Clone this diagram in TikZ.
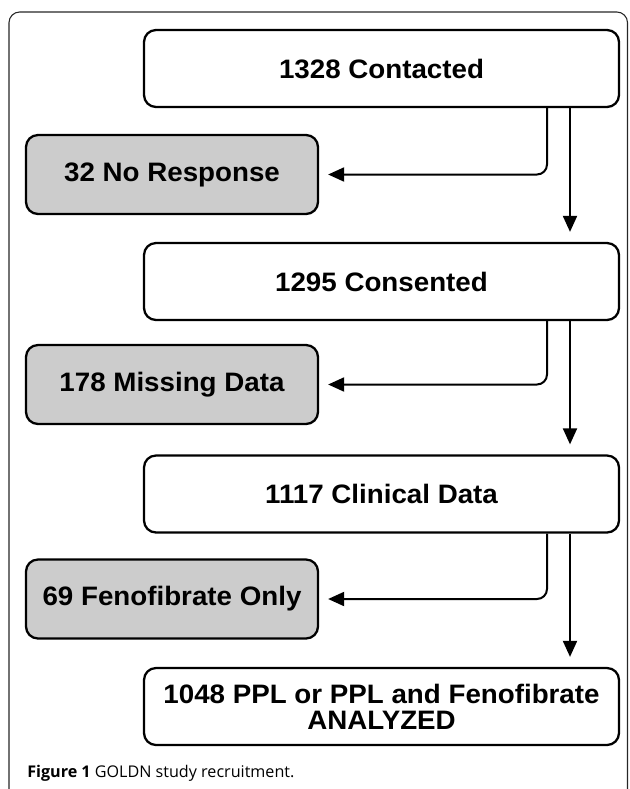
\documentclass[tikz,border=0pt]{standalone}
\usepackage{fontspec}
\usetikzlibrary{arrows.meta,calc}
\newfontfamily\boxfont[FakeStretch=1.04]{Liberation Sans}
\newfontfamily\capfont{Open Sans}
\definecolor{boxgray}{HTML}{CCCCCC}
\tikzset{
  mainbox/.style={draw=black, line width=1.7pt, rounded corners=9pt, fill=white,
    minimum width=356.25pt, minimum height=57.75pt, inner sep=0pt, align=center,
    font=\boxfont\bfseries\fontsize{20pt}{19.5pt}\selectfont},
  sidebox/.style={mainbox, fill=boxgray, minimum width=219pt, minimum height=59.25pt},
  conn/.style={line width=1.5pt, -{Triangle[length=12pt,width=10.5pt]}},
  frame/.style={draw=black!85, line width=0.8pt, rounded corners=8pt}
}
\begin{document}
\begin{tikzpicture}[x=0.75pt,y=-0.75pt]
\useasboundingbox (0,0) rectangle (629,789);
\draw[frame] (9,820) -- (9,12) -- (627.5,12) -- (627.5,820);
\coordinate (sx) at (547,0);
\coordinate (mx) at (570,0);
\node[mainbox] (b1) at (381.5,68.5) {1328 Contacted};
\node[sidebox] (nr) at (172,174.5) {32 No Response};
\node[mainbox] (b2) at (381.5,281.5) {1295 Consented};
\node[sidebox] (md) at (172,384.5) {178 Missing Data};
\node[mainbox] (b3) at (381.5,494) {1117 Clinical Data};
\node[sidebox] (fo) at (172,599) {69 Fenofibrate Only};
\node[mainbox] (b4) at (381.5,706.5) {1048 PPL or PPL and Fenofibrate\\ANALYZED};
\node[anchor=base west, inner sep=0pt, font=\capfont\fontsize{12.1pt}{14pt}\selectfont] (cap) at (27,777)
  {\textbf{Figure 1} GOLDN study recruitment.};
\draw[conn, rounded corners=7.5pt, shorten >=6.75pt] (b1.south -| sx) |- (nr.east);
\draw[conn, shorten >=7.5pt] (b1.south -| mx) -- (b2.north -| mx);
\draw[conn, rounded corners=7.5pt, shorten >=6.75pt] (b2.south -| sx) |- (md.east);
\draw[conn, shorten >=7.5pt] (b2.south -| mx) -- (b3.north -| mx);
\draw[conn, rounded corners=7.5pt, shorten >=6.75pt] (b3.south -| sx) |- (fo.east);
\draw[conn, shorten >=7.5pt] (b3.south -| mx) -- (b4.north -| mx);
\end{tikzpicture}
\end{document}
